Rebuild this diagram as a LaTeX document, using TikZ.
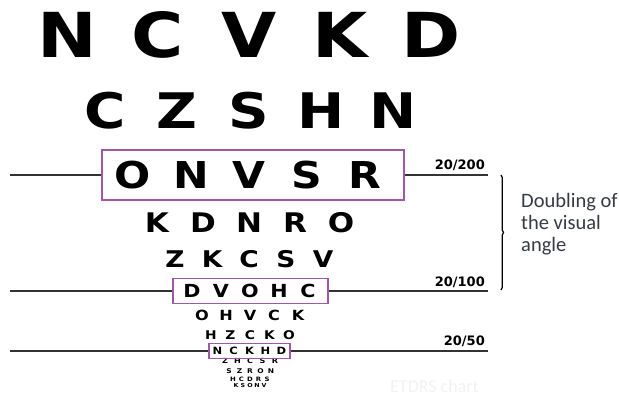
\documentclass[tikz,border=0pt]{standalone}
\usepackage{fontspec}
\newfontfamily\sloan{DejaVu Sans}[FakeStretch=1.15]
\newfontfamily\carlito{Carlito}
\newfontfamily\labelfont{DejaVu Sans}
\usepackage{xcolor}
\definecolor{boxpurple}{HTML}{9E58A6}
\definecolor{notegray}{HTML}{363A45}
\usepackage{tikz}
\usetikzlibrary{decorations.pathreplacing}

\tikzset{
  letter/.style={inner sep=0pt, anchor=base, font=\sloan\bfseries\fontsize{#1}{#1}\selectfont},
  chartbox/.style={draw=boxpurple, line width=1.2pt, inner sep=0pt},
  rule/.style={draw=black!80, line width=1.1pt},
  acuity/.style={inner sep=0pt, anchor=base east, font=\labelfont\bfseries\fontsize{13}{13}\selectfont}
}

\begin{document}
\begin{tikzpicture}[x=1pt, y=-1pt]
  \useasboundingbox (0,0) rectangle (619,397);
  \foreach \ch [count=\i] in {N,C,V,K,D} \node[letter=62] (r1-\i) at ({249+91*(\i-3)},57) {\ch};
  \foreach \ch [count=\i] in {C,Z,S,H,N} \node[letter=49] (r2-\i) at ({249+72*(\i-3)},128) {\ch};
  \foreach \ch [count=\i] in {O,N,V,S,R} \node[letter=37] (r3-\i) at ({249+58*(\i-3)},188) {\ch};
  \foreach \ch [count=\i] in {K,D,N,R,O} \node[letter=27] (r4-\i) at ({249+46*(\i-3)},232) {\ch};
  \foreach \ch [count=\i] in {Z,K,C,S,V} \node[letter=23] (r5-\i) at ({249+37*(\i-3)},267) {\ch};
  \foreach \ch [count=\i] in {D,V,O,H,C} \node[letter=18] (r6-\i) at ({250+29*(\i-3)},297) {\ch};
  \foreach \ch [count=\i] in {O,H,V,C,K} \node[letter=14] (r7-\i) at ({250+24*(\i-3)},320) {\ch};
  \foreach \ch [count=\i] in {H,Z,C,K,O} \node[letter=12] (r8-\i) at ({250+19.5*(\i-3)},339) {\ch};
  \foreach \ch [count=\i] in {N,C,K,H,D} \node[letter=10] (r9-\i) at ({249.5+16*(\i-3)},354.5) {\ch};
  \foreach \ch [count=\i] in {Z,H,C,S,R} \node[letter=7] (r10-\i) at ({250+12.5*(\i-3)},363.5) {\ch};
  \foreach \ch [count=\i] in {S,Z,R,O,N} \node[letter=6.5] (r11-\i) at ({250+10.5*(\i-3)},373) {\ch};
  \foreach \ch [count=\i] in {H,C,D,R,S} \node[letter=6] (r12-\i) at ({250+8.5*(\i-3)},381) {\ch};
  \foreach \ch [count=\i] in {K,S,O,N,V} \node[letter=5.5] (r13-\i) at ({250+7*(\i-3)},387.5) {\ch};

  \node[chartbox, minimum width=302, minimum height=50] (box200) at (253,175) {};
  \node[chartbox, minimum width=155, minimum height=25] (box100) at (250.5,291) {};
  \node[chartbox, minimum width=81, minimum height=15] (box50) at (249.5,351) {};

  \coordinate (l200) at (10,175);
  \coordinate (r200) at (488,175);
  \coordinate (l100) at (10,291);
  \coordinate (r100) at (488,291);
  \coordinate (l50) at (10,351);
  \coordinate (r50) at (488,351);
  \draw[rule] (l200) -- (box200);
  \draw[rule] (box200) -- (r200);
  \draw[rule] (l100) -- (box100);
  \draw[rule] (box100) -- (r100);
  \draw[rule] (l50) -- (box50);
  \draw[rule] (box50) -- (r50);

  \node[acuity] (a200) at (485,169) {20/200};
  \node[acuity] (a100) at (485,286) {20/100};
  \node[acuity] (a50) at (485,345) {20/50};

  \coordinate (brTop) at (501,175);
  \coordinate (brBot) at (501,290);
  \draw[line width=1.3pt, decorate, decoration={brace, amplitude=2.5pt}] (brTop) -- (brBot);
  \node[inner sep=0pt, anchor=north west, align=left, text=notegray, font=\carlito\fontsize{20.5}{22}\selectfont] (doubling) at (521,193) {Doubling of\\the visual\\angle};

  \node[inner sep=0pt, anchor=base west, text=black!5, font=\carlito\fontsize{18}{18}\selectfont] (etdrs) at (390,392) {ETDRS chart};
\end{tikzpicture}
\end{document}
